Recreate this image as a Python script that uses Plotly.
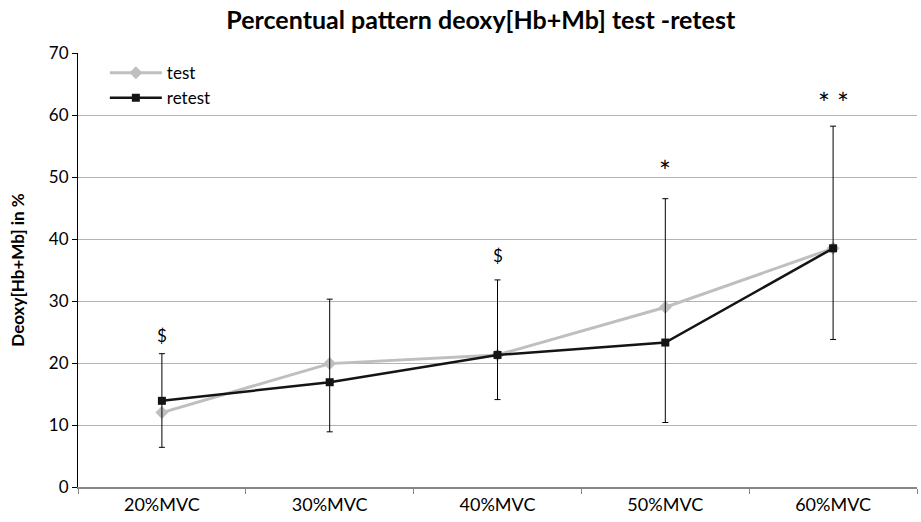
import plotly.graph_objects as go

categories = ["20%MVC", "30%MVC", "40%MVC", "50%MVC", "60%MVC"]
test_vals = [12.0, 19.9, 21.3, 29.0, 38.5]
retest_vals = [13.9, 16.9, 21.3, 23.3, 38.5]
err_top = [21.5, 30.3, 33.4, 46.5, 58.2]
err_bottom = [6.4, 8.9, 14.1, 10.4, 23.8]
sig_labels = ["$", "", "$", "*", "* *"]
sig_y = [24.4, None, 37.3, 51.0, 62.0]
sig_size = [17, 17, 17, 28, 28]

FONT = "Lato"

fig = go.Figure()
fig.add_trace(go.Scatter(
    x=categories, y=test_vals, name="test", mode="lines+markers",
    line=dict(color="#bfbfbf", width=3),
    marker=dict(symbol="diamond", size=10, color="#bfbfbf"),
))
fig.add_trace(go.Scatter(
    x=categories, y=retest_vals, name="retest", mode="lines+markers",
    line=dict(color="#141414", width=2.5),
    marker=dict(symbol="square", size=8, color="#141414"),
    error_y=dict(type="data", symmetric=False,
                 array=[t - r for t, r in zip(err_top, retest_vals)],
                 arrayminus=[r - b for r, b in zip(retest_vals, err_bottom)],
                 color="#000000", thickness=1, width=3),
))

for c, s, yv, fs in zip(categories, sig_labels, sig_y, sig_size):
    if s:
        fig.add_annotation(x=c, y=yv, text=s, showarrow=False,
                           font=dict(family=FONT, size=fs, color="#000000"))

fig.update_layout(
    width=921, height=522,
    margin=dict(l=78, r=4, t=53, b=35),
    paper_bgcolor="white", plot_bgcolor="white",
    font=dict(family=FONT, size=17, color="#000000"),
    title=dict(text="<b>Percentual pattern deoxy[Hb+Mb] test -retest</b>",
               x=0.522, xanchor="center", y=0.962, yanchor="middle",
               font=dict(family=FONT, size=25, color="#000000")),
    showlegend=True,
    legend=dict(x=0.032, y=0.995, xanchor="left", yanchor="top",
                bgcolor="rgba(0,0,0,0)", borderwidth=0,
                font=dict(family=FONT, size=17), itemwidth=52,
                tracegroupgap=0),
)
fig.update_xaxes(
    type="category", showgrid=False, showline=True, linecolor="#868686",
    linewidth=2, ticks="outside", tickson="boundaries", ticklen=5,
    tickcolor="#868686", tickfont=dict(family=FONT, size=18),
    range=[-0.5, 4.5],
)
fig.update_yaxes(
    range=[0, 70], dtick=10, showgrid=True, gridcolor="#b3b3b3", gridwidth=1,
    showline=True, linecolor="#000000", linewidth=1, ticks="outside",
    ticklen=5, tickcolor="#000000", tickfont=dict(family=FONT, size=17),
    zeroline=False,
    title=dict(text="<b>Deoxy[Hb+Mb] in %</b>", font=dict(family=FONT, size=17),
               standoff=19),
)

fig.write_html("out.html")
